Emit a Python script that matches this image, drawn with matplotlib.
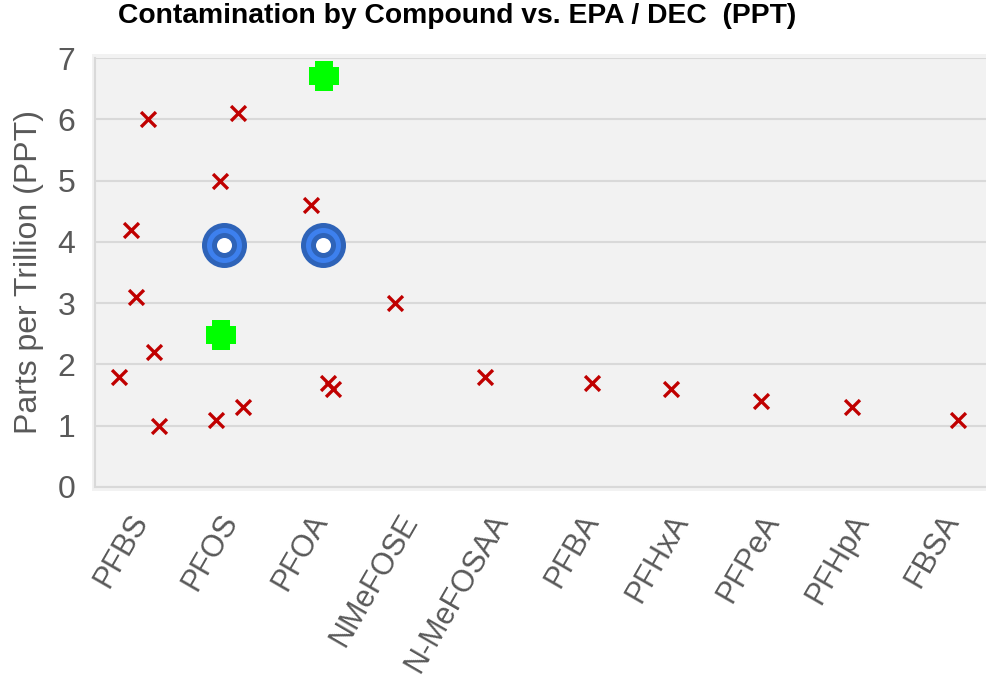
import matplotlib
matplotlib.use("Agg")
import matplotlib.pyplot as plt
import numpy as np
from matplotlib.path import Path
from matplotlib.patches import Rectangle

plt.rcParams["font.family"] = ["Liberation Sans", "DejaVu Sans"]

compounds = ["PFBS", "PFOS", "PFOA", "NMeFOSE", "N-MeFOSAA",
             "PFBA", "PFHxA", "PFPeA", "PFHpA", "FBSA"]

# sample results (x = category position incl. jitter, y = PPT)
sample_x = [0.76, 0.89, 0.95, 1.08, 1.14, 1.20,
            1.83, 1.88, 2.08, 2.13,
            2.89, 3.07, 3.13,
            3.82, 4.81, 6.00, 6.88, 7.87, 8.88, 10.06]
sample_y = [1.8, 4.2, 3.1, 6.0, 2.2, 1.0,
            1.1, 5.0, 6.1, 1.3,
            4.6, 1.7, 1.6,
            3.0, 1.8, 1.7, 1.6, 1.4, 1.3, 1.1]

# EPA limits
epa_x = [1.92, 3.02]
epa_y = [3.95, 3.95]

# DEC limits
dec_x = [1.89, 3.03]
dec_y = [2.48, 6.71]

grey = "#595959"

fig = plt.figure(figsize=(9.87, 6.82), dpi=100)
# light grey plot-area panel
fig.patches.append(Rectangle((92 / 987, 1 - 491 / 682), 895 / 987, 437 / 682,
                             transform=fig.transFigure, facecolor="#f2f2f2",
                             edgecolor="none", zorder=-5))
ax = fig.add_axes([95 / 987, 1 - 487 / 682, 892 / 987, 429 / 682])
ax.set_facecolor("#f2f2f2")

ax.set_xlim(0.49, 10.38)
ax.set_ylim(0, 7)
ax.set_yticks(range(0, 8))
ax.set_xticks(range(1, len(compounds) + 1))
ax.set_xticklabels(compounds, rotation=60, ha="right", va="center",
                   rotation_mode="anchor", fontsize=22, color=grey)
ax.tick_params(axis="x", length=0, pad=21)
ax.tick_params(axis="y", length=0, pad=14, labelsize=23, labelcolor=grey)

ax.grid(axis="y", color="#d9d9d9", linewidth=1.5)
ax.set_axisbelow(True)
for s in ["top", "right"]:
    ax.spines[s].set_visible(False)
for s in ["left", "bottom"]:
    ax.spines[s].set_color("#d9d9d9")
    ax.spines[s].set_linewidth(1.5)

ax.set_ylabel("Parts per Trillion (PPT)", fontsize=23, color=grey, labelpad=10)

# red crosses
ax.scatter(sample_x, sample_y, marker="x", s=115, color="#c00000",
           linewidths=2.4, zorder=3, clip_on=False)

# blue target rings
ax.scatter(epa_x, epa_y, marker="o", s=1050, color="#2e63b8", zorder=4, linewidths=0)
ax.scatter(epa_x, epa_y, marker="o", s=635, color="#3d80ee", zorder=5, linewidths=0)
ax.scatter(epa_x, epa_y, marker="o", s=324, color="#2e63b8", zorder=6, linewidths=0)
ax.scatter(epa_x, epa_y, marker="o", s=117, color="white", zorder=7, linewidths=0)

# green thick plus
a = 0.58
plus = Path(np.array([(-a, -1), (a, -1), (a, -a), (1, -a), (1, a), (a, a),
                      (a, 1), (-a, 1), (-a, a), (-1, a), (-1, -a), (-a, -a),
                      (-a, -1)]), closed=True)
ax.scatter(dec_x, dec_y, marker=plus, s=450, color="#00ff00", zorder=5,
           linewidths=0)

fig.text(118 / 987, 1 - 3 / 682, "Contamination by Compound vs. EPA / DEC  (PPT)",
         fontsize=20.3, fontweight="bold", color="black", ha="left", va="top")

fig.savefig("out.png", dpi=100)
